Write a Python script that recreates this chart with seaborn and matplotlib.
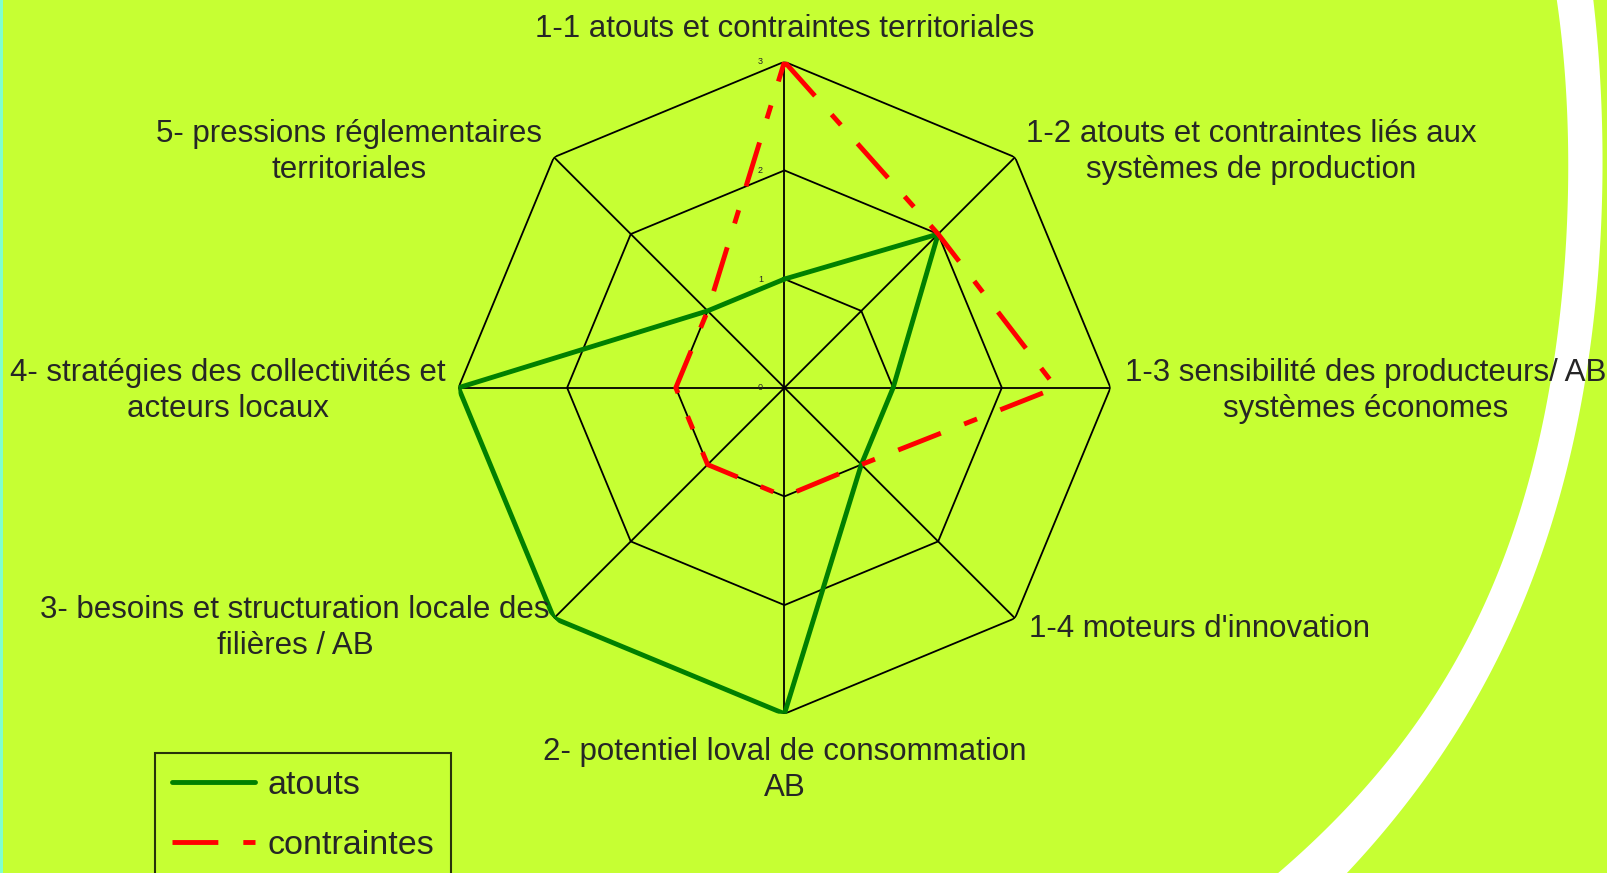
"""
Radar chart: atouts / contraintes par thème territorial (AB).
"""

import numpy as np
import pandas as pd
import matplotlib
matplotlib.use("Agg")
import matplotlib.pyplot as plt
import seaborn as sns
from matplotlib.patches import Rectangle
from matplotlib import transforms as mtransforms

# ---------------------------------------------------------------------------
# Data
# ---------------------------------------------------------------------------
categories = [
    "1-1 atouts et contraintes territoriales",
    "1-2 atouts et contraintes liés aux\nsystèmes de production",
    "1-3 sensibilité des producteurs/ AB\nsystèmes économes",
    "1-4 moteurs d'innovation",
    "2- potentiel loval de consommation\nAB",
    "3- besoins et structuration locale des\nfilières / AB",
    "4- stratégies des collectivités et\nacteurs locaux",
    "5- pressions réglementaires\nterritoriales",
]
atouts = [1, 2, 1, 1, 3, 3, 3, 1]
contraintes = [3, 2, 2.5, 1, 1, 1, 1, 1]
series_names = ["atouts", "contraintes"]
levels = [1, 2, 3]
rtick_labels = ["0", "1", "2", "3"]

# label anchor positions (figure pixels, y from top) and alignment
label_pos = [(785, 29, "center"), (1251, 152, "center"), (1366, 391, "center"),
             (1029, 629, "left"), (785, 770, "center"), (295, 628, "center"),
             (228, 391, "center"), (349, 152, "center")]

# edges of the white crescent in the background (pixels, y from top)
arc_y = [0, 120, 300, 400, 500, 600, 700, 873]
arc_inner_x = [1557, 1567, 1561, 1550, 1521, 1486, 1433, 1278]
arc_outer_x = [1593, 1603, 1593, 1585, 1557, 1525, 1475, 1347]

BG = "#C6FF33"
W, H = 1608, 873

sns.set_theme(style="white")
plt.rcParams["font.family"] = ["Liberation Sans", "DejaVu Sans"]
plt.rcParams["lines.scale_dashes"] = False

n = len(categories)
theta = np.linspace(0, 2 * np.pi, n, endpoint=False)

# long-form table, each series closed back on its first point
rows = []
for name, vals in zip(series_names, [atouts, contraintes]):
    for t, v in zip(np.append(theta, 2 * np.pi), vals + vals[:1]):
        rows.append({"theta": t, "valeur": v, "série": name})
df = pd.DataFrame(rows)

# ---------------------------------------------------------------------------
# Figure
# ---------------------------------------------------------------------------
fig = plt.figure(figsize=(W / 100, H / 100), dpi=100, facecolor=BG)

# background decoration: white crescent on the right, thin strip on the left
bg = fig.add_axes([0, 0, 1, 1])
bg.set_xlim(0, W)
bg.set_ylim(H, 0)
bg.axis("off")
ys = np.linspace(-10, H + 10, 300)
x_in = np.polyval(np.polyfit(arc_y, arc_inner_x, 4), ys)
x_out = np.polyval(np.polyfit(arc_y, arc_outer_x, 4), ys)
bg.fill(np.concatenate([x_out, x_in[::-1]]), np.concatenate([ys, ys[::-1]]),
        color="white", lw=0)
bg.add_patch(Rectangle((0, 0), 3, H, color="#80FFD0", lw=0))

ax = fig.add_axes([0.2851, 0.1824, 0.4055, 0.7469], projection="polar")
ax.set_facecolor("none")
ax.set_theta_offset(np.pi / 2)
ax.set_theta_direction(-1)
ax.grid(False)
ax.spines["polar"].set_visible(False)

# octagonal grid
for lv in levels:
    ax.plot(np.append(theta, 0), [lv] * (n + 1), color="black", lw=1.3, zorder=1)
for t in theta:
    ax.plot([t, t], [0, levels[-1]], color="black", lw=1.3, zorder=1)

sns.lineplot(
    data=df, x="theta", y="valeur", hue="série", style="série",
    palette={"atouts": "#008000", "contraintes": "#FF0000"},
    dashes={"atouts": "", "contraintes": (33, 18, 10, 18)},
    linewidth=3.5, errorbar=None, ax=ax, zorder=3,
)

ax.set_ylim(0, levels[-1])
ax.set_xticks([])
ax.set_yticks([])
ax.set_xlabel("")
ax.set_ylabel("")

# small radial labels next to the top spoke
off = mtransforms.offset_copy(ax.transData, fig=fig, x=-24, y=0, units="dots")
for r, lab in enumerate(rtick_labels):
    ax.text(0, r, lab, transform=off, fontsize=6.5, ha="center", va="center")

# category labels
for lab, (px, py, ha) in zip(categories, label_pos):
    fig.text(px / W, 1 - py / H, lab, fontsize=22.5, ha=ha, va="center",
             multialignment="center", linespacing=1.22)

sns.move_legend(
    ax, "upper left", bbox_to_anchor=(155 / W, 1 - 753 / H),
    bbox_transform=fig.transFigure, title=None, frameon=True, fancybox=False,
    edgecolor="black", facecolor="none", fontsize=24.5, handlelength=2.45,
    handletextpad=0.35, borderaxespad=0, borderpad=0.5, labelspacing=0.86,
)
leg = ax.get_legend()
leg.get_frame().set_linewidth(1.5)
for h in leg.legend_handles:
    h.set_linewidth(3.5)

fig.savefig("out.png", dpi=100, facecolor=BG)
